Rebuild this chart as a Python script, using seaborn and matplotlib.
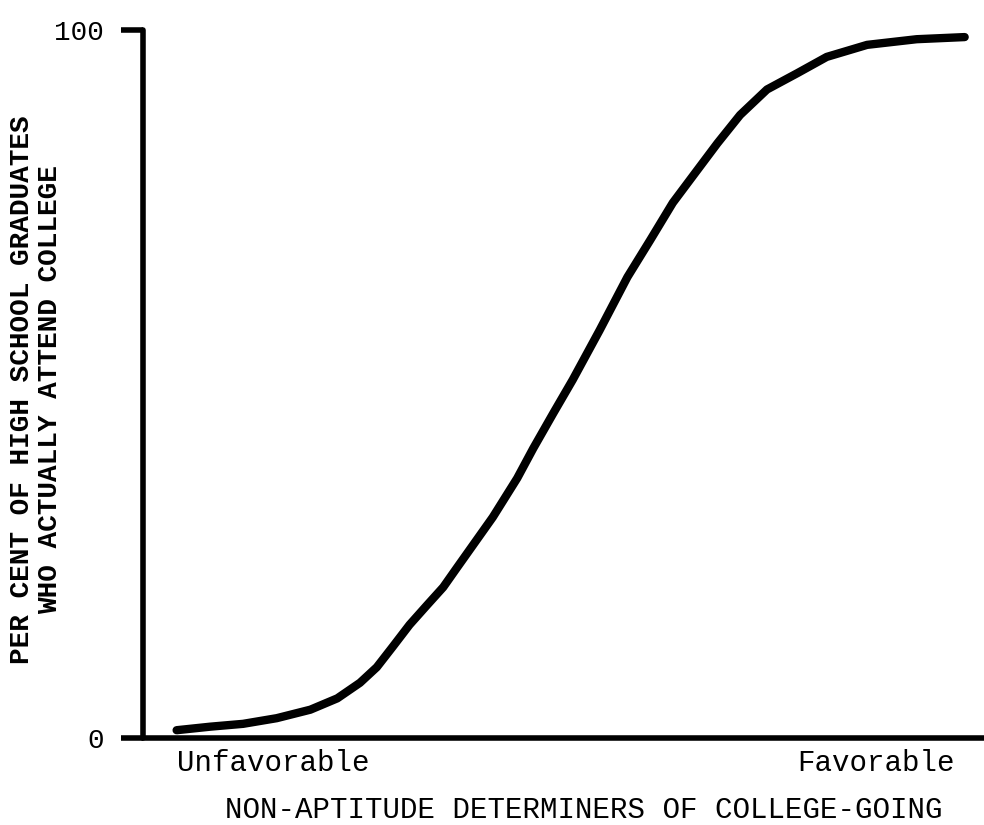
import matplotlib
matplotlib.use("Agg")
import matplotlib.pyplot as plt
import seaborn as sns
import pandas as pd

# Data (x: position along the non-aptitude scale 0-100, y: per cent)
x_pos = [4.0, 8.0, 11.9, 15.9, 19.9, 23.1, 25.8, 27.8, 29.7, 31.7, 33.8, 35.7,
         37.3, 41.6, 44.5, 46.4, 48.8, 51.1, 54.3, 57.6, 60.3, 63.0, 65.9, 68.3,
         71.0, 74.2, 77.8, 81.3, 86.1, 92.0, 97.7]
pct = [1.1, 1.6, 2.0, 2.8, 4.0, 5.6, 7.8, 10.0, 12.9, 16.0, 18.8, 21.3,
       24.0, 31.2, 36.7, 40.9, 45.9, 50.6, 57.6, 65.1, 70.3, 75.6, 80.2, 84.0,
       88.0, 91.6, 93.9, 96.2, 97.9, 98.7, 99.0]
y_ticks = [0, 100]
y_tick_labels = ["0", "100"]
x_end_labels = ["Unfavorable", "Favorable"]
x_title = "NON-APTITUDE DETERMINERS OF COLLEGE-GOING"
y_title_1 = "PER CENT OF HIGH SCHOOL GRADUATES"
y_title_2 = "WHO ACTUALLY ATTEND COLLEGE"

df = pd.DataFrame({"x": x_pos, "y": pct})

sns.set_style("white")
plt.rcParams["font.family"] = ["Liberation Mono", "DejaVu Sans Mono"]
plt.rcParams["text.color"] = "black"
plt.rcParams["ytick.color"] = "black"
plt.rcParams["ytick.labelcolor"] = "black"

fig = plt.figure(figsize=(9.84, 8.25), dpi=100)
ax = fig.add_axes([143 / 984, 87 / 825, 1 - 143 / 984, (738 - 30) / 825])

sns.lineplot(data=df, x="x", y="y", ax=ax, color="black", linewidth=6,
             solid_capstyle="round", solid_joinstyle="round")

ax.set_xlim(0, 100)
ax.set_ylim(0, 100)
for s in ["top", "right"]:
    ax.spines[s].set_visible(False)
for s in ["left", "bottom"]:
    ax.spines[s].set_linewidth(4)
    ax.spines[s].set_color("black")
    ax.spines[s].set_capstyle("round")

ax.set_yticks(y_ticks)
ax.set_yticklabels(y_tick_labels, fontsize=20, color="black")
ax.tick_params(axis="y", length=16, width=4, color="black", pad=12, left=True,
               direction="out")
ax.set_xticks([])
ax.set_xlabel("")
ax.set_ylabel("")

ax.text(0.04, -0.015, x_end_labels[0], transform=ax.transAxes, ha="left", va="top",
        fontsize=21, color="black")
ax.text(0.965, -0.015, x_end_labels[1], transform=ax.transAxes, ha="right", va="top",
        fontsize=21, color="black")
fig.text(584 / 984, 1 - 810 / 825, x_title, ha="center", va="center", fontsize=21,
         color="black")

fig.text(22 / 984, 1 - 390 / 825, y_title_1, rotation=90, ha="center", va="center",
         fontsize=20, fontweight="bold", color="black")
fig.text(50 / 984, 1 - 390 / 825, y_title_2, rotation=90, ha="center", va="center",
         fontsize=20, fontweight="bold", color="black")

fig.savefig("out.png", dpi=100)
